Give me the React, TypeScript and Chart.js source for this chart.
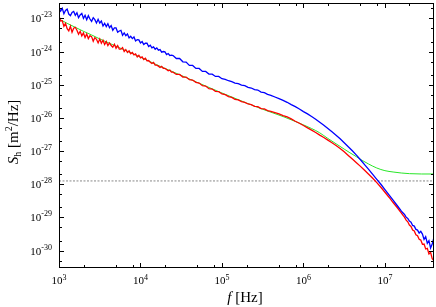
import React, { useEffect, useRef } from "react";
import { Chart, registerables } from "chart.js";

Chart.register(...registerables);

// log10 of frequency [Hz] for the measured spectra
const freqLog = [
  3.00, 3.02, 3.04, 3.06, 3.08, 3.10, 3.12, 3.14, 3.16, 3.18,
  3.20, 3.22, 3.24, 3.26, 3.28, 3.30, 3.32, 3.34, 3.36, 3.38,
  3.40, 3.42, 3.44, 3.46, 3.48, 3.50, 3.52, 3.54, 3.56, 3.58,
  3.60, 3.62, 3.64, 3.66, 3.68, 3.70, 3.72, 3.74, 3.76, 3.78,
  3.80, 3.82, 3.84, 3.86, 3.88, 3.90, 3.92, 3.94, 3.96, 3.98,
  4.00, 4.02, 4.04, 4.06, 4.08, 4.10, 4.12, 4.14, 4.16, 4.18,
  4.20, 4.22, 4.24, 4.26, 4.28, 4.30, 4.32, 4.34, 4.36, 4.38,
  4.40, 4.44, 4.48, 4.52, 4.56, 4.60, 4.64, 4.68, 4.72, 4.76,
  4.80, 4.84, 4.88, 4.92, 4.96, 5.00, 5.04, 5.08, 5.12, 5.16,
  5.20, 5.24, 5.28, 5.32, 5.36, 5.40, 5.44, 5.48, 5.52, 5.56,
  5.60,
  5.65, 5.70, 5.75, 5.80, 5.85, 5.90, 5.95, 6.00, 6.05, 6.10,
  6.15, 6.20, 6.25, 6.30, 6.35, 6.40, 6.45, 6.50, 6.55, 6.60,
  6.65, 6.70, 6.75, 6.80, 6.85, 6.90, 6.95, 7.00, 7.05, 7.10,
  7.15, 7.20,
  7.22, 7.24, 7.26, 7.28, 7.30, 7.32, 7.34, 7.36, 7.38, 7.40,
  7.42, 7.44, 7.46, 7.48, 7.50, 7.52, 7.54, 7.56, 7.58, 7.60,
];

// log10 of S_h [m^2/Hz], blue spectrum
const blueLog = [
  -22.67, -22.78, -22.70, -22.86, -22.76, -22.72, -22.87, -22.92, -22.82, -22.79,
  -22.91, -22.83, -22.98, -22.90, -22.85, -23.00, -22.91, -23.04, -22.92, -23.02,
  -23.09, -22.98, -23.04, -23.14, -23.03, -23.14, -23.08, -23.23, -23.15, -23.25,
  -23.16, -23.28, -23.22, -23.36, -23.29, -23.29, -23.42, -23.38, -23.36, -23.51,
  -23.44, -23.52, -23.47, -23.59, -23.54, -23.61, -23.56, -23.68, -23.64, -23.65,
  -23.74, -23.70, -23.79, -23.75, -23.75, -23.85, -23.81, -23.89, -23.86, -23.93,
  -23.89, -23.96, -23.94, -24.02, -24.00, -24.01, -24.09, -24.06, -24.12, -24.11,
  -24.12, -24.21, -24.21, -24.31, -24.32, -24.42, -24.42, -24.51, -24.51, -24.60,
  -24.60, -24.68, -24.68, -24.75, -24.75, -24.82, -24.84, -24.88, -24.91, -24.95,
  -24.97, -25.01, -25.03, -25.08, -25.10, -25.15, -25.16, -25.22, -25.24, -25.29,
  -25.32,
  -25.37, -25.42, -25.47, -25.53, -25.60, -25.66, -25.73, -25.81, -25.88, -25.96,
  -26.04, -26.13, -26.22, -26.32, -26.42, -26.52, -26.63, -26.75, -26.87, -26.99,
  -27.12, -27.26, -27.41, -27.55, -27.70, -27.85, -28.00, -28.16, -28.32, -28.48,
  -28.64, -28.80,
  -28.86, -28.91, -28.99, -29.03, -29.11, -29.14, -29.24, -29.26, -29.36, -29.38,
  -29.47, -29.42, -29.50, -29.66, -29.58, -29.78, -29.70, -29.92, -29.80, -29.62,
];

// log10 of S_h [m^2/Hz], red spectrum
const redLog = [
  -22.93, -23.08, -23.07, -23.24, -23.15, -23.31, -23.38, -23.24, -23.42, -23.30,
  -23.27, -23.36, -23.48, -23.39, -23.53, -23.44, -23.58, -23.47, -23.61, -23.52,
  -23.55, -23.69, -23.58, -23.63, -23.74, -23.62, -23.75, -23.66, -23.79, -23.70,
  -23.82, -23.74, -23.82, -23.87, -23.78, -23.90, -23.82, -23.93, -23.93, -23.88,
  -24.00, -23.94, -24.03, -23.98, -24.07, -24.03, -24.10, -24.07, -24.16, -24.11,
  -24.19, -24.16, -24.24, -24.20, -24.28, -24.27, -24.32, -24.36, -24.33, -24.41,
  -24.41, -24.44, -24.48, -24.45, -24.51, -24.51, -24.54, -24.58, -24.56, -24.62,
  -24.62, -24.69, -24.69, -24.77, -24.77, -24.85, -24.86, -24.93, -24.95, -25.03,
  -25.04, -25.12, -25.13, -25.20, -25.21, -25.28, -25.30, -25.36, -25.38, -25.44,
  -25.46, -25.51, -25.53, -25.58, -25.60, -25.65, -25.66, -25.72, -25.73, -25.78,
  -25.80,
  -25.84, -25.88, -25.93, -25.97, -26.03, -26.10, -26.16, -26.23, -26.30, -26.37,
  -26.44, -26.52, -26.59, -26.67, -26.75, -26.83, -26.92, -27.02, -27.13, -27.24,
  -27.35, -27.46, -27.58, -27.70, -27.82, -27.95, -28.09, -28.24, -28.39, -28.55,
  -28.70, -28.86,
  -28.93, -28.99, -29.08, -29.13, -29.23, -29.27, -29.38, -29.41, -29.52, -29.55,
  -29.66, -29.68, -29.81, -29.80, -29.95, -29.93, -30.10, -30.05, -30.24, -30.30,
];

// green model curve
const greenFreqLog = [
  3.00, 3.10, 3.20, 3.30, 3.40, 3.50, 3.60, 3.80, 4.00, 4.20,
  4.50, 4.80, 5.00, 5.30, 5.50, 5.75, 6.00, 6.10, 6.20, 6.30,
  6.40, 6.50, 6.57, 6.65, 6.72, 6.80, 6.90, 7.00, 7.10, 7.20,
  7.30, 7.45, 7.60,
];
const greenLog = [
  -23.02, -23.15, -23.27, -23.39, -23.50, -23.62, -23.73, -23.95, -24.17, -24.40,
  -24.72, -25.04, -25.25, -25.55, -25.74, -25.96, -26.21, -26.32, -26.45, -26.62,
  -26.78, -26.94, -27.05, -27.17, -27.28, -27.39, -27.51, -27.59, -27.63, -27.66,
  -27.68, -27.69, -27.69,
];

const floorLevel = 1.26e-28;

const xMin = 1e3;
const xMax = 4e7;
const yMin = 3e-31;
const yMax = 2.9e-23;
const xMajorExps = [3, 4, 5, 6, 7];
const yMajorExps = [-23, -24, -25, -26, -27, -28, -29, -30];
const xMinorMult = [2, 5, 8];
const yMinorMult = [2, 5];

const SERIF = '"Liberation Serif", "Times New Roman", serif';

const toPoints = (fl: number[], sl: number[]) =>
  fl.map((u, i) => ({ x: Math.pow(10, u), y: Math.pow(10, sl[i]) }));

const framePlugin = {
  id: "frameAndLabels",
  afterDraw(chart: any) {
    const { ctx, chartArea: a, scales } = chart;
    const xs = scales.x;
    const ys = scales.y;
    ctx.save();
    ctx.strokeStyle = "#000";
    ctx.lineWidth = 1;
    ctx.strokeRect(a.left + 0.5, a.top + 0.5, a.right - a.left - 1, a.bottom - a.top - 1);

    const majorLen = 5;
    const minorLen = 3;
    ctx.beginPath();
    for (const e of [2, ...xMajorExps]) {
      for (const m of [1, ...xMinorMult]) {
        const v = m * Math.pow(10, e);
        if (v < xMin * 0.999 || v > xMax * 1.001) continue;
        const px = Math.round(xs.getPixelForValue(v)) + 0.5;
        const len = m === 1 ? majorLen : minorLen;
        ctx.moveTo(px, a.bottom);
        ctx.lineTo(px, a.bottom - len);
        ctx.moveTo(px, a.top);
        ctx.lineTo(px, a.top + len);
      }
    }
    for (const e of [-22, ...yMajorExps, -31]) {
      for (const m of [1, ...yMinorMult]) {
        const v = m * Math.pow(10, e);
        if (v < yMin * 0.999 || v > yMax * 1.001) continue;
        const py = Math.round(ys.getPixelForValue(v)) + 0.5;
        const len = m === 1 ? majorLen : minorLen;
        ctx.moveTo(a.left, py);
        ctx.lineTo(a.left + len, py);
        ctx.moveTo(a.right, py);
        ctx.lineTo(a.right - len, py);
      }
    }
    ctx.stroke();

    ctx.fillStyle = "#000";
    ctx.textBaseline = "alphabetic";
    ctx.textAlign = "left";
    const baseFont = `11px ${SERIF}`;
    const expFont = `8px ${SERIF}`;

    for (const e of xMajorExps) {
      const px = xs.getPixelForValue(Math.pow(10, e));
      ctx.font = baseFont;
      const bw = ctx.measureText("10").width;
      ctx.font = expFont;
      const ew = ctx.measureText(String(e)).width;
      const left = px - (bw + ew) / 2;
      ctx.font = baseFont;
      ctx.fillText("10", left, a.bottom + 16);
      ctx.font = expFont;
      ctx.fillText(String(e), left + bw, a.bottom + 11.5);
    }
    for (const e of yMajorExps) {
      const py = ys.getPixelForValue(Math.pow(10, e));
      ctx.font = expFont;
      const ew = ctx.measureText(String(e)).width;
      ctx.font = baseFont;
      const bw = ctx.measureText("10").width;
      const right = a.left - 7;
      ctx.fillText("10", right - ew - bw, py + 4);
      ctx.font = expFont;
      ctx.fillText(String(e), right - ew, py - 1);
    }

    {
      const parts: [string, string][] = [
        ["f", `italic 15px ${SERIF}`],
        [" [Hz]", `15px ${SERIF}`],
      ];
      let total = 0;
      for (const [t, f] of parts) {
        ctx.font = f;
        total += ctx.measureText(t).width;
      }
      let cx = 245 - total / 2;
      for (const [t, f] of parts) {
        ctx.font = f;
        ctx.fillText(t, cx, 302);
        cx += ctx.measureText(t).width;
      }
    }

    {
      ctx.translate(18, 132);
      ctx.rotate(-Math.PI / 2);
      const parts: [string, string, number][] = [
        ["S", `italic 15px ${SERIF}`, 0],
        ["h", `10px ${SERIF}`, 3],
        [" [m", `15px ${SERIF}`, 0],
        ["2", `10px ${SERIF}`, -6],
        ["/Hz]", `15px ${SERIF}`, 0],
      ];
      let total = 0;
      for (const [t, f] of parts) {
        ctx.font = f;
        total += ctx.measureText(t).width;
      }
      let cx = -total / 2;
      for (const [t, f, dy] of parts) {
        ctx.font = f;
        ctx.fillText(t, cx, dy);
        cx += ctx.measureText(t).width;
      }
    }
    ctx.restore();
  },
};

export default function App() {
  const ref = useRef<HTMLCanvasElement>(null);
  useEffect(() => {
    if (!ref.current) return;
    const chart = new Chart(ref.current, {
      type: "line",
      data: {
        datasets: [
          {
            label: "blue",
            data: toPoints(freqLog, blueLog),
            borderColor: "#0000ff",
            borderWidth: 1.3,
            pointRadius: 0,
            tension: 0,
            order: 0,
          },
          {
            label: "red",
            data: toPoints(freqLog, redLog),
            borderColor: "#ff0000",
            borderWidth: 1.3,
            pointRadius: 0,
            tension: 0,
            order: 1,
          },
          {
            label: "green",
            data: toPoints(greenFreqLog, greenLog),
            borderColor: "rgb(40,230,40)",
            borderWidth: 1,
            pointRadius: 0,
            cubicInterpolationMode: "monotone",
            order: 2,
          },
          {
            label: "floor",
            data: [
              { x: xMin, y: floorLevel },
              { x: xMax, y: floorLevel },
            ],
            borderColor: "#888888",
            borderWidth: 1,
            borderDash: [2, 1.5],
            pointRadius: 0,
            order: 3,
          },
        ],
      },
      options: {
        responsive: false,
        animation: false,
        events: [],
        layout: { padding: { left: 59, top: 3, right: 2, bottom: 39 } },
        plugins: { legend: { display: false }, tooltip: { enabled: false } },
        scales: {
          x: { type: "logarithmic", min: xMin, max: xMax, display: false },
          y: { type: "logarithmic", min: yMin, max: yMax, display: false },
        },
      },
      plugins: [framePlugin],
    });
    return () => chart.destroy();
  }, []);
  return (
    <div style={{ position: "absolute", left: 0, top: 0, width: 436, height: 307, background: "#fff" }}>
      <canvas ref={ref} width={436} height={307} style={{ display: "block", width: 436, height: 307 }} />
    </div>
  );
}
